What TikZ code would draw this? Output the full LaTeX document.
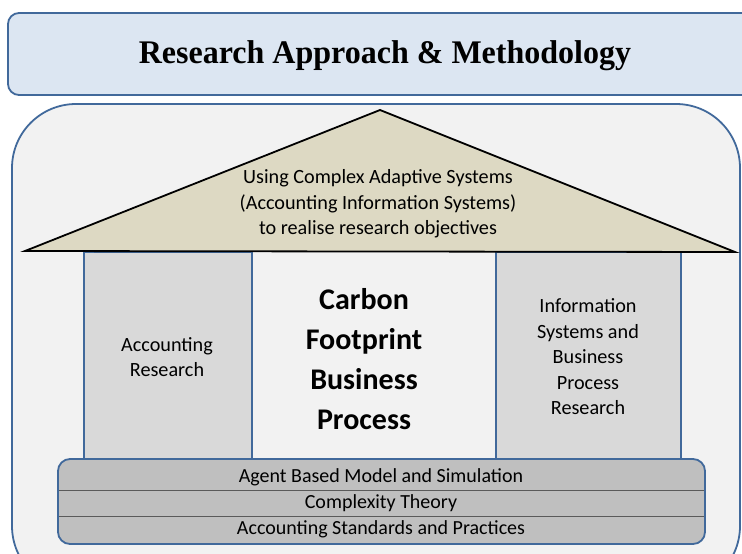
\documentclass[tikz,border=0pt]{standalone}
\usepackage{fontspec}
\setmainfont{Liberation Serif}
\newfontfamily\calib{Carlito}
\definecolor{bannerfill}{HTML}{DCE6F2}
\definecolor{boxblue}{HTML}{41699B}
\definecolor{bgfill}{HTML}{F2F2F2}
\definecolor{rooffill}{HTML}{DDD9C3}
\definecolor{pillarfill}{HTML}{D9D9D9}
\definecolor{basefill}{HTML}{BFBFBF}
\definecolor{divgray}{HTML}{5A5A5A}
\tikzset{
  bluebox/.style={draw=boxblue, line width=1.8pt},
  pillar/.style={bluebox, fill=pillarfill},
  txt/.style={align=center, inner sep=0pt, font=\calib\fontsize{20.2}{25.5}\selectfont},
  bigtxt/.style={align=center, inner sep=0pt, font=\calib\bfseries\fontsize{30}{40}\selectfont},
  basetxt/.style={align=center, inner sep=0pt, font=\calib\fontsize{20}{22}\selectfont},
}
\begin{document}
\begin{tikzpicture}[x=1pt,y=-1pt]
\useasboundingbox (0,0) rectangle (742,554);
\clip (0,0) rectangle (742,554);
% title banner
\draw[bluebox, fill=bannerfill, rounded corners=11pt] (8,13) rectangle (780,95);
\node[font=\bfseries\fontsize{33}{38}\selectfont] (title) at (385,56) {\scalebox{0.97}[1]{Research Approach \& Methodology}};
% outer box
\draw[bluebox, fill=bgfill, rounded corners=64pt] (12,104) rectangle (740,590);
% pillars
\draw[pillar] (84,252) rectangle (252,470);
\draw[pillar] (496,252) rectangle (681,470);
% roof
\draw[black, line width=1.8pt, fill=rooffill, line join=miter] (25,251) -- (380,110) -- (735,252) -- cycle;
\node[txt] (roof) at (378,204) {Using Complex Adaptive Systems\\(Accounting Information Systems)\\to realise research objectives};
% pillar texts
\node[txt] (left) at (167,357) {Accounting\\Research};
\node[bigtxt] (center) at (364,359) {Carbon\\Footprint\\Business\\Process};
\node[txt] (right) at (588,357) {Information\\Systems and\\Business\\Process\\Research};
% base
\draw[bluebox, fill=basefill, rounded corners=12pt] (58,459) rectangle (705,544);
\draw[divgray, line width=1pt] (59,490) -- (704,490);
\draw[divgray, line width=1pt] (59,516) -- (704,516);
\node[basetxt] (b1) at (381,477) {Agent Based Model and Simulation};
\node[basetxt] (b2) at (381,503) {Complexity Theory};
\node[basetxt] (b3) at (381,529) {Accounting Standards and Practices};
\end{tikzpicture}
\end{document}
